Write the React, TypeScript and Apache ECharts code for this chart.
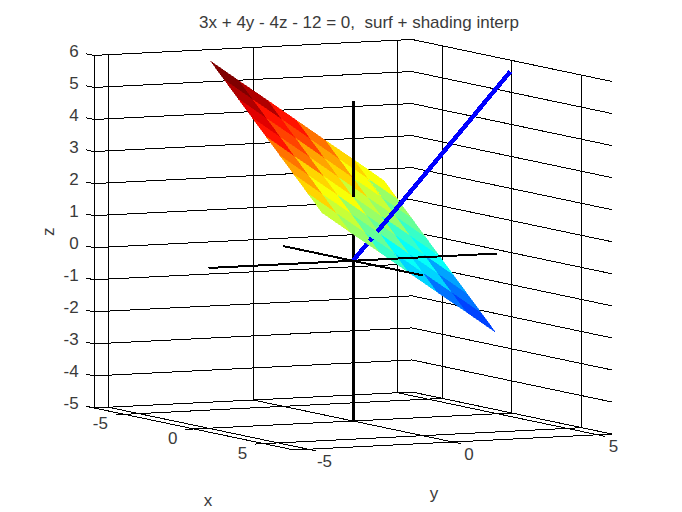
import React, { useEffect, useRef } from "react";
import * as echarts from "echarts";

const titleText = "3x + 4y - 4z - 12 = 0,  surf + shading interp";
const xTicks = [-5, 0, 5];
const yTicks = [-5, 0, 5];
const zTicks = [-5, -4, -3, -2, -1, 0, 1, 2, 3, 4, 5, 6];
const xLim = [-7.17, 7.17];
const yLim = [-5.5, 5.5];
const zLim = [-5, 6];
const gridX = [-4, -3, -2, -1, 0, 1, 2, 3, 4];
const gridY = [-3, -2, -1, 0, 1, 2, 3];
const surfaceZ = [
  [6, 5.5, 5, 4.5, 4, 3.5, 3, 2.5, 2],
  [5.33, 4.83, 4.33, 3.83, 3.33, 2.83, 2.33, 1.83, 1.33],
  [4.67, 4.17, 3.67, 3.17, 2.67, 2.17, 1.67, 1.17, 0.67],
  [4, 3.5, 3, 2.5, 2, 1.5, 1, 0.5, 0],
  [3.33, 2.83, 2.33, 1.83, 1.33, 0.83, 0.33, -0.17, -0.67],
  [2.67, 2.17, 1.67, 1.17, 0.67, 0.17, -0.33, -0.83, -1.33],
  [2, 1.5, 1, 0.5, 0, -0.5, -1, -1.5, -2],
];
const colorLim = [-2, 6];
const colorLevels = 21;
const tickOut = { x: 0.3, y: 0.57, z: 0.57 };

// Visible stretches of the coordinate axes and of the normal (x0,y0,z0,x1,y1,z1)
const blackThickBelow = [[0, 0, -5, 0, 0, 5]];
const blackThickAbove = [[0, 0, 2, 0, 0, 5]];
const blackThinAbove = [
  [-5, 0, 0, 5, 0, 0],
  [0, -5, 0, 0, 5, 0],
];
const blueBelow = [[0, 0, 0, 0.3, 0.4, 0.6]];
const blueAbove = [
  [0.315, 0.42, 0.63, 0.36, 0.48, 0.72],
  [0.46, 0.613, 0.92, 3, 4, 6],
];

function project(p: number[]) {
  const [x, y, z] = p;
  return [353 + 13.94 * x + 28.9 * y, 260.75 + 2.93 * x - 1.45 * y - 32.05 * z];
}

function jet(v: number) {
  const n = colorLevels;
  const i = Math.min(n - 1, Math.max(0, Math.floor(((v - colorLim[0]) / (colorLim[1] - colorLim[0])) * n)));
  const t = (i + 1) / n;
  const c = (a: number) => Math.round(Math.max(0, Math.min(1, a)) * 255);
  return `rgb(${c(Math.min(4 * t - 1.5, -4 * t + 4.5))},${c(Math.min(4 * t - 0.5, -4 * t + 3.5))},${c(Math.min(4 * t + 0.5, -4 * t + 2.5))})`;
}

function segs() {
  const out: number[][] = [];
  const [x0, x1] = xLim;
  const [y0, y1] = yLim;
  const [z0, z1] = zLim;
  zTicks.forEach((z) => {
    out.push([x0 - tickOut.z, y0, z, x0, y0, z]);
    out.push([x0, y0, z, x0, y1, z]);
    out.push([x0, y1, z, x1, y1, z]);
  });
  out.push([x0, y0, z0, x0, y0, z1]);
  yTicks.forEach((y) => {
    out.push([x0, y, z0, x0, y, z1]);
    out.push([x0, y, z0, x1 + tickOut.y, y, z0]);
  });
  xTicks.forEach((x) => {
    out.push([x, y1, z0, x, y1, z1]);
    out.push([x, y0 - tickOut.x, z0, x, y1, z0]);
  });
  out.push([x0, y0, z0, x1, y0, z0]);
  out.push([x1, y0, z0, x1, y1, z0]);
  return out;
}

function lineSeries(data: number[][], color: string, width: number) {
  return {
    type: "custom",
    coordinateSystem: "cartesian2d",
    clip: false,
    silent: true,
    data,
    renderItem: (_p: any, api: any) => {
      const a = api.coord(project([api.value(0), api.value(1), api.value(2)]));
      const b = api.coord(project([api.value(3), api.value(4), api.value(5)]));
      return {
        type: "line",
        shape: { x1: a[0], y1: a[1], x2: b[0], y2: b[1] },
        style: { stroke: color, lineWidth: width, fill: "none" },
      };
    },
  };
}

function surfaceSeries() {
  const data: number[][] = [];
  for (let j = 0; j < gridY.length - 1; j++) for (let i = 0; i < gridX.length - 1; i++) data.push([i, j, surfaceZ[j][i]]);
  return {
    type: "custom",
    coordinateSystem: "cartesian2d",
    clip: false,
    silent: true,
    data,
    renderItem: (_p: any, api: any) => {
      const i = api.value(0);
      const j = api.value(1);
      const corners = [
        [i, j],
        [i + 1, j],
        [i + 1, j + 1],
        [i, j + 1],
      ].map(([a, b]) => api.coord(project([gridX[a], gridY[b], surfaceZ[b][a]])));
      const fill = jet(api.value(2));
      return {
        type: "polygon",
        shape: { points: corners },
        style: { fill, stroke: fill, lineWidth: 0.5 },
      };
    },
  };
}

const FONT = "Liberation Sans";
const FS = 17;
const INK = "#3a3a3a";

function labelSeries(
  items: { text: string; p: number[]; dx: number; dy: number; align: string; rotation?: number }[],
) {
  return {
    type: "custom",
    coordinateSystem: "cartesian2d",
    clip: false,
    silent: true,
    data: items.map((_, i) => [i]),
    renderItem: (_p: any, api: any) => {
      const it = items[api.value(0)];
      const c = api.coord(project(it.p));
      return {
        type: "text",
        x: c[0] + it.dx,
        y: c[1] + it.dy,
        rotation: it.rotation ?? 0,
        style: {
          text: it.text,
          fill: INK,
          font: `${FS}px "${FONT}"`,
          align: it.align,
          verticalAlign: "middle",
        },
      };
    },
  };
}

export default function App() {
  const ref = useRef<HTMLDivElement>(null);
  useEffect(() => {
    document.body.style.margin = "0";
    document.body.style.overflow = "hidden";
    const chart = echarts.init(ref.current!, null, { renderer: "svg" });
    const labels = [
      ...zTicks.map((z) => ({ text: String(z), p: [xLim[0], yLim[0], z], dx: -15.4, dy: -4, align: "right" })),
      ...xTicks.map((x) => ({ text: String(x), p: [x, yLim[0], zLim[0]], dx: -16.5, dy: 9.5, align: "right" })),
      ...yTicks.map((y) => ({ text: String(y), p: [xLim[1], y, zLim[0]], dx: 16, dy: 12, align: "center" })),
      { text: "x", p: [0, yLim[0], zLim[0]], dx: 14, dy: 72, align: "center" },
      { text: "y", p: [xLim[1], 0, zLim[0]], dx: -19, dy: 51, align: "center" },
      { text: "z", p: [xLim[0], yLim[0], 0], dx: -46, dy: -16, align: "center", rotation: Math.PI / 2 },
    ];
    chart.setOption({
      animation: false,
      backgroundColor: "#fff",
      title: {
        text: titleText,
        left: 354,
        top: 9,
        textAlign: "center",
        textStyle: { fontFamily: FONT, fontSize: FS, fontWeight: "normal", color: INK },
      },
      grid: { left: 0, right: 0, top: 0, bottom: 0 },
      xAxis: { type: "value", min: 0, max: 682, show: false },
      yAxis: { type: "value", min: 0, max: 512, inverse: true, show: false },
      series: [
        lineSeries(segs(), "#000", 1),
        lineSeries(blackThickBelow, "#000", 3),
        lineSeries(blueBelow, "#0000ff", 4.5),
        surfaceSeries(),
        lineSeries(blackThickAbove, "#000", 3),
        lineSeries(blackThinAbove, "#000", 2),
        lineSeries(blueAbove, "#0000ff", 4.5),
        labelSeries(labels),
      ],
    });
    ref.current!.querySelectorAll("path").forEach((el) => el.setAttribute("shape-rendering", "crispEdges"));
    return () => chart.dispose();
  }, []);
  return <div ref={ref} style={{ width: 682, height: 512 }} />;
}
